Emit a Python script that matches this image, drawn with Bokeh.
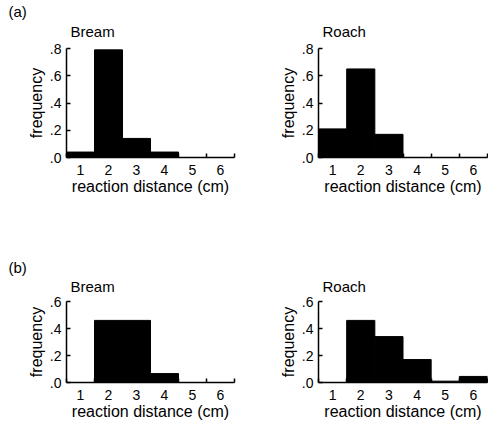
from bokeh.plotting import figure
from bokeh.layouts import column, row
from bokeh.models import Range1d, FixedTicker, Title
from bokeh.embed import file_html
from bokeh.resources import INLINE

bins = [1, 2, 3, 4, 5, 6]
x_edges = [0.5, 1.5, 2.5, 3.5, 4.5, 5.5, 6.5]
x_tick_labels = ["1", "2", "3", "4", "5", "6"]

bream_a = [0.04, 0.79, 0.14, 0.04, 0.0, 0.0]
roach_a = [0.21, 0.65, 0.17, 0.0, 0.0, 0.0]
bream_b = [0.0, 0.46, 0.46, 0.066, 0.0, 0.0]
roach_b = [0.0, 0.46, 0.34, 0.17, 0.01, 0.045]

y_ticks_a = [0.0, 0.2, 0.4, 0.6, 0.8]
y_labels_a = [".0", ".2", ".4", ".6", ".8"]
y_ticks_b = [0.0, 0.2, 0.4, 0.6]
y_labels_b = [".0", ".2", ".4", ".6"]

FONT = "Liberation Sans"


def style_title(t, offset, standoff):
    t.text_font = FONT
    t.text_font_size = "15px"
    t.text_font_style = "normal"
    t.text_color = "black"
    t.align = "left"
    t.offset = offset
    try:
        t.standoff = standoff
    except Exception:
        t.standoff = 0


def make(vals, ymax, yticks, ylabels, name, width, height, bl, bt, br, bb, standoff, panel=None):
    p = figure(width=width, height=height, output_backend="svg", toolbar_location=None,
               x_range=Range1d(0.5, 6.5), y_range=Range1d(0, ymax),
               min_border_left=bl, min_border_top=bt, min_border_right=br, min_border_bottom=bb)
    p.vbar(x=bins, top=vals, width=1.0, fill_color="black", line_color="black", line_width=1)
    if panel is None:
        p.title.text = name
        style_title(p.title, 4, standoff)
    else:
        t = Title(text=name)
        style_title(t, 4, standoff)
        p.add_layout(t, "above")
        p.title.text = panel
        style_title(p.title, -58, -15)
    p.outline_line_color = None
    p.xgrid.visible = False
    p.ygrid.visible = False
    p.background_fill_color = "white"
    p.border_fill_color = "white"

    xa = p.xaxis[0]
    xa.ticker = FixedTicker(ticks=bins, minor_ticks=x_edges)
    xa.major_label_overrides = {b: l for b, l in zip(bins, x_tick_labels)}
    xa.major_tick_line_color = None
    xa.minor_tick_in = 4
    xa.minor_tick_out = 0
    xa.minor_tick_line_width = 1.5
    xa.axis_label = "reaction distance (cm)"

    ya = p.yaxis[0]
    ya.ticker = FixedTicker(ticks=yticks, minor_ticks=[])
    ya.major_label_overrides = {t: l for t, l in zip(yticks, ylabels)}
    ya.major_tick_in = 4
    ya.major_tick_out = 0
    ya.major_tick_line_width = 1.5
    ya.axis_label = "frequency"

    for ax in (xa, ya):
        ax.axis_line_width = 1.5
        ax.axis_line_color = "black"
        ax.major_label_text_font = FONT
        ax.major_label_text_font_size = "14px"
        ax.major_label_text_color = "black"
        ax.axis_label_text_font = FONT
        ax.axis_label_text_font_size = "16px"
        ax.axis_label_text_font_style = "normal"
        ax.axis_label_text_color = "black"
        ax.major_label_standoff = 1
        ax.axis_label_standoff = 0
    ya.major_label_standoff = 5
    ya.axis_label_standoff = 2
    return p


fa1 = make(bream_a, 0.8, y_ticks_a, y_labels_a, "Bream", 250, 256, 66, 48, 16, 99, 17, panel="(a)")
fa2 = make(roach_a, 0.8, y_ticks_a, y_labels_a, "Roach", 238, 256, 68, 48, 1, 99, 17)
fb1 = make(bream_b, 0.6, y_ticks_b, y_labels_b, "Bream", 250, 166, 66, 45, 16, 37, 14, panel="(b)")
fb2 = make(roach_b, 0.6, y_ticks_b, y_labels_b, "Roach", 238, 166, 68, 45, 1, 37, 14)

layout = column(row(fa1, fa2), row(fb1, fb2))
open("out.html", "w").write(file_html(layout, INLINE))
